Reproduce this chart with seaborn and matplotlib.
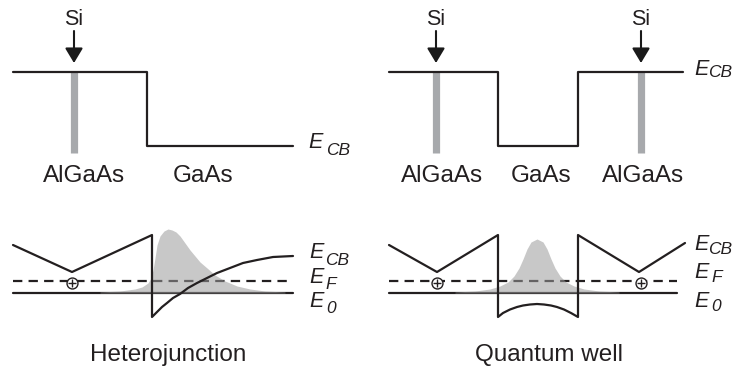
import matplotlib
matplotlib.use("Agg")
import matplotlib.pyplot as plt
import seaborn as sns

# ---------------- data (schematic band diagrams) -------------
# top panels: conduction band edge
HJ_TOP_X = [13, 147, 147, 293]
HJ_TOP_Y = [72, 72, 146, 146]
QW_TOP_X = [389, 498, 498, 578, 578, 683]
QW_TOP_Y = [72, 72, 146, 146, 72, 72]
HJ_DOPANT_X = [74]
QW_DOPANT_X = [436, 641]
TOP_LAYERS_HJ = ["AlGaAs", "GaAs"]
TOP_LAYERS_HJ_X = [84, 203]
TOP_LAYERS_QW = ["AlGaAs", "GaAs", "AlGaAs"]
TOP_LAYERS_QW_X = [442, 541, 643]

# bottom panels: band bending
HJ_CB_X = [13, 72, 152, 152, 157, 162, 167, 173, 180, 188, 197, 207, 217, 230, 243, 257, 273, 293]
HJ_CB_Y = [245, 272, 235, 317, 312, 307, 303, 298, 294, 288, 283, 278, 273, 268, 263, 260, 257, 256]
QW_CB_X = [389, 437, 498, 498, 503, 510, 517, 523, 530, 537, 544, 551, 557, 564, 571, 578, 578, 639, 685]
QW_CB_Y = [245, 272, 235, 317, 313, 309.5, 307, 305.5, 304.5, 304, 304.5, 305.5, 307, 309.5, 313, 317, 235, 272, 243]
E_F_Y = 281
E_0_Y = 293
HJ_EXT = [13, 293]
QW_EXT = [389, 677]
HJ_DONOR_X = [72]
QW_DONOR_X = [437, 641]

# electron density (grey)
HJ_N_X = [100, 120, 135, 142, 148, 151, 153, 155, 157, 160, 164, 168, 172, 176, 180, 185,
          190, 195, 200, 207, 215, 225, 237, 250, 265, 285]
HJ_N_Y = [292, 291, 289, 287, 283, 278, 270, 258, 245, 236, 231, 229, 230, 232, 236, 243,
          250, 256, 262, 268, 275, 281, 286, 289, 291, 292]
QW_N_X = [455, 475, 490, 500, 508, 514, 519, 523, 527, 531, 537,
          543, 547, 551, 555, 560, 566, 574, 584, 599, 619]
QW_N_Y = [292, 291, 289, 286, 282, 276, 268, 259, 249, 242, 239,
          242, 249, 259, 268, 276, 282, 286, 289, 291, 292]

# ---------------- figure ----------------
sns.set_theme(style="white")
plt.rcParams["font.family"] = ["Liberation Sans", "DejaVu Sans"]

fig = plt.figure(figsize=(7.35, 3.71), dpi=100)
ax = fig.add_axes([0, 0, 1, 1])
ax.set_xlim(0, 735)
ax.set_ylim(371, 0)
ax.axis("off")

LW = 1.6
BAR = "#a7a9ac"

# doping bars + arrows
for xs in (HJ_DOPANT_X, QW_DOPANT_X):
    for x in xs:
        ax.plot([x, x], [72, 153], color=BAR, lw=5.2, solid_capstyle="butt", zorder=1)
        ax.annotate("", xy=(x, 63), xytext=(x, 31),
                    arrowprops=dict(arrowstyle="-|>,head_length=0.75,head_width=0.45",
                                    lw=1.5, color="k", shrinkA=0, shrinkB=0), zorder=3)
        ax.text(x, 25, "Si", ha="center", va="baseline", fontsize=15.5, color="#231f20")

sns.lineplot(x=HJ_TOP_X, y=HJ_TOP_Y, sort=False, estimator=None, color="#231f20",
             lw=LW, ax=ax, zorder=2)
sns.lineplot(x=QW_TOP_X, y=QW_TOP_Y, sort=False, estimator=None, color="#231f20",
             lw=LW, ax=ax, zorder=2)

for names, xs in ((TOP_LAYERS_HJ, TOP_LAYERS_HJ_X), (TOP_LAYERS_QW, TOP_LAYERS_QW_X)):
    for n, x in zip(names, xs):
        ax.text(x, 182, n, ha="center", va="baseline", fontsize=17.5, color="#231f20")

# bottom: E_F (dashed) and E_0
for ext in (HJ_EXT, QW_EXT):
    ax.plot(ext, [E_F_Y, E_F_Y], color="#231f20", lw=LW, linestyle=(0, (4.2, 2.8)), zorder=2)
    ax.plot(ext, [E_0_Y, E_0_Y], color="#231f20", lw=LW, zorder=2)

# donors
for xs in (HJ_DONOR_X, QW_DONOR_X):
    ax.scatter(xs, [283] * len(xs), s=62, facecolor="white", edgecolor="#231f20", lw=1.0, zorder=5)
    ax.scatter(xs, [283] * len(xs), s=28, marker="+", color="#231f20", lw=1.0, zorder=6)

# electron density
ax.fill_between(HJ_N_X, HJ_N_Y, E_0_Y, color="#9b9b9b", alpha=0.55, lw=0, zorder=3)
ax.fill_between(QW_N_X, QW_N_Y, E_0_Y, color="#9b9b9b", alpha=0.55, lw=0, zorder=3)

sns.lineplot(x=HJ_CB_X, y=HJ_CB_Y, sort=False, estimator=None, color="#231f20",
             lw=LW, ax=ax, zorder=4)
sns.lineplot(x=QW_CB_X, y=QW_CB_Y, sort=False, estimator=None, color="#231f20",
             lw=LW, ax=ax, zorder=4)


def elabel(x, y, sub, sx, sy):
    ax.text(x, y, "E", fontsize=15.5, style="italic", va="baseline", ha="left", color="#231f20")
    ax.text(sx, sy, sub, fontsize=12.5, style="italic", va="baseline", ha="left", color="#231f20")


elabel(308, 148, "CB", 326, 155)
elabel(694, 75, "CB", 708, 77)
elabel(309, 258, "CB", 325, 265)
elabel(309, 283, "F", 325, 289)
elabel(309, 307, "0", 326, 313)
elabel(694, 250, "CB", 708, 254)
elabel(694, 278, "F", 711, 282)
elabel(694, 307, "0", 711, 311)

ax.text(168, 361, "Heterojunction", ha="center", va="baseline", fontsize=17.5, color="#231f20")
ax.text(549, 361, "Quantum well", ha="center", va="baseline", fontsize=17.5, color="#231f20")

fig.savefig("out.png", dpi=100)
